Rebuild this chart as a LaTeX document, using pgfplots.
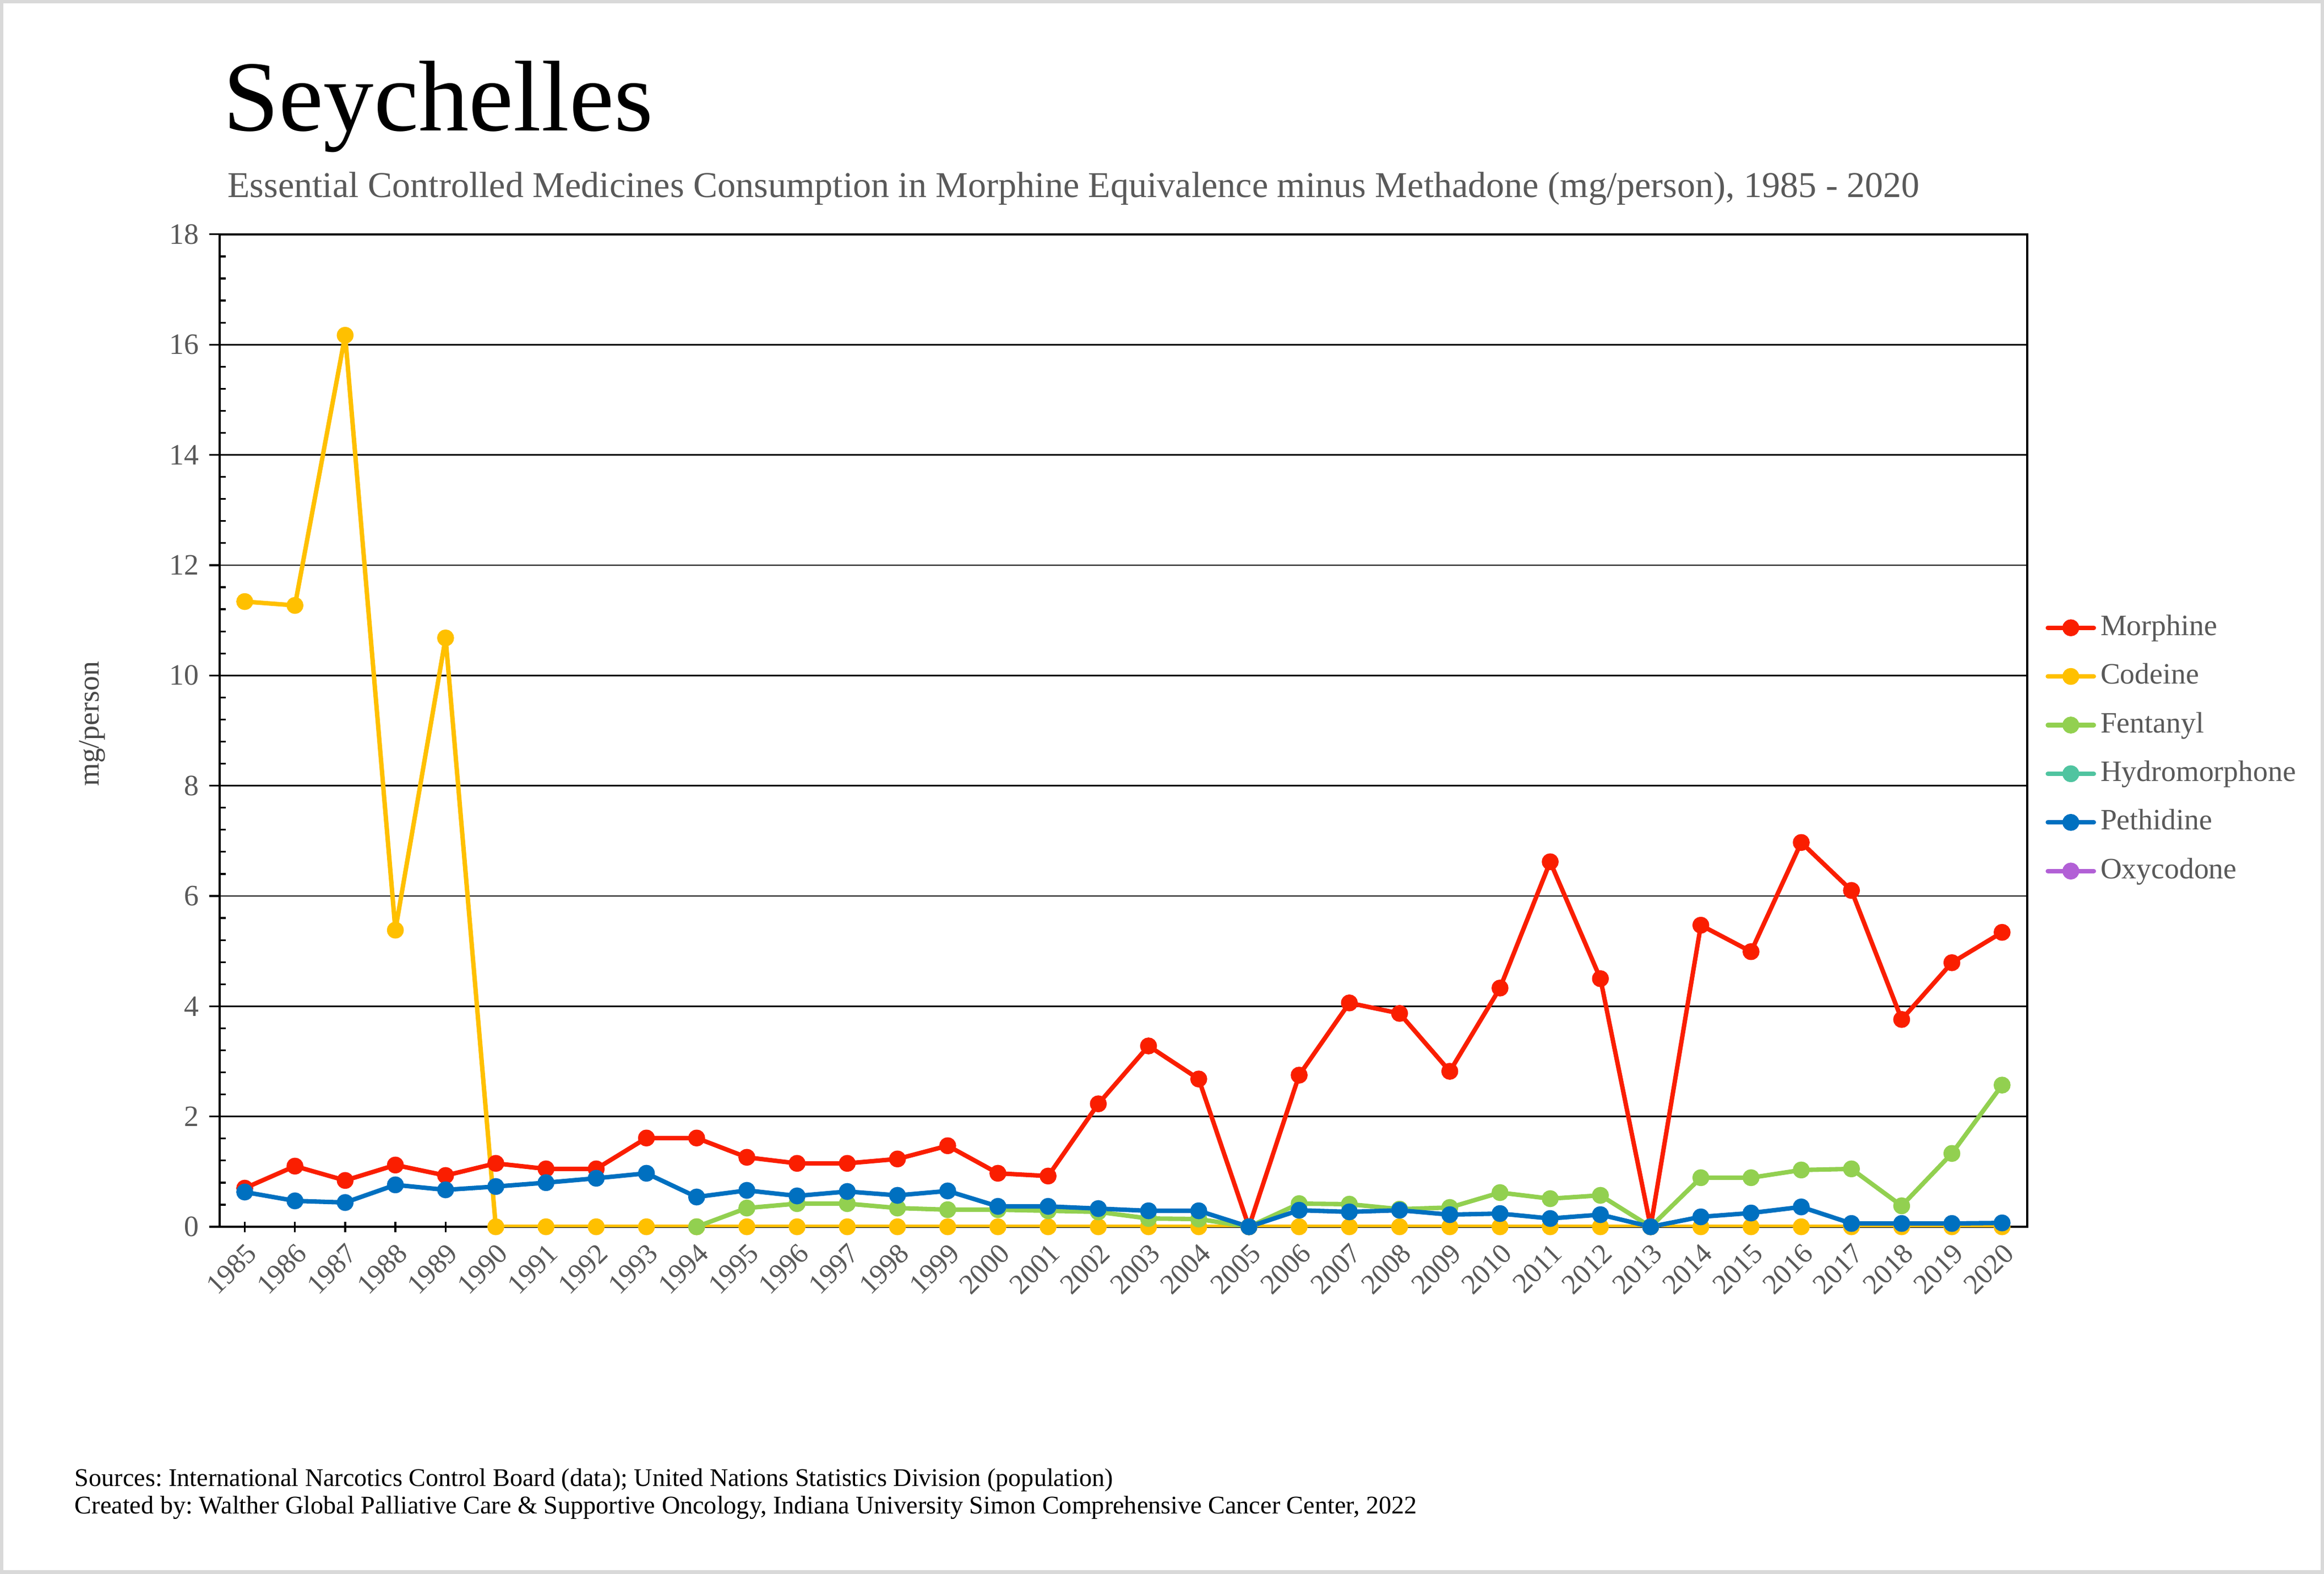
\documentclass[border=0pt]{standalone}
\usepackage{fontspec}
\setmainfont{Liberation Serif}
\usepackage{pgfplots}
\pgfplotsset{compat=1.18}
\usepackage{pgfplotstable}
\definecolor{cMor}{RGB}{250,30,0}
\definecolor{cCod}{RGB}{255,192,0}
\definecolor{cFen}{RGB}{146,208,80}
\definecolor{cHyd}{RGB}{80,196,160}
\definecolor{cPet}{RGB}{0,112,192}
\definecolor{cOxy}{RGB}{178,96,214}
\definecolor{txtgray}{RGB}{89,89,89}
\pgfplotstableread{
year mor cod peth
1985 0.70 11.34 0.63
1986 1.10 11.27 0.47
1987 0.84 16.17 0.44
1988 1.12 5.38 0.76
1989 0.93 10.68 0.67
1990 1.15 0 0.73
1991 1.05 0 0.80
1992 1.05 0 0.88
1993 1.61 0 0.97
1994 1.61 0 0.54
1995 1.26 0 0.66
1996 1.15 0 0.56
1997 1.15 0 0.64
1998 1.23 0 0.57
1999 1.47 0 0.65
2000 0.97 0 0.37
2001 0.92 0 0.37
2002 2.23 0 0.33
2003 3.28 0 0.29
2004 2.68 0 0.29
2005 0 0 0
2006 2.75 0 0.30
2007 4.06 0 0.27
2008 3.87 0 0.30
2009 2.82 0 0.22
2010 4.33 0 0.24
2011 6.62 0 0.15
2012 4.50 0 0.22
2013 0 0 0
2014 5.47 0 0.18
2015 4.99 0 0.25
2016 6.97 0 0.36
2017 6.10 0 0.06
2018 3.76 0 0.06
2019 4.79 0 0.06
2020 5.34 0 0.07
}\maindata
\pgfplotstableread{
year fen
1994 0
1995 0.34
1996 0.42
1997 0.42
1998 0.34
1999 0.31
2000 0.31
2001 0.29
2002 0.27
2003 0.15
2004 0.14
2005 0
2006 0.42
2007 0.41
2008 0.32
2009 0.35
2010 0.62
2011 0.51
2012 0.57
2013 0
2014 0.89
2015 0.89
2016 1.03
2017 1.05
2018 0.38
2019 1.33
2020 2.57
}\fendata
\begin{document}
\frenchspacing
\begin{tikzpicture}
\path[use as bounding box] (0bp,0bp) rectangle (783bp,530.5bp);
\draw[black!15, line width=1.2bp] (0.6bp,0.6bp) rectangle (782.4bp,529.9bp);
\node[anchor=base west, inner sep=0pt, font=\fontsize{34}{40}\selectfont] at (75bp,486.5bp) {Seychelles};
\node[anchor=base west, inner sep=0pt, text=txtgray, font=\fontsize{12.3}{14}\selectfont] at (76.5bp,464bp) {Essential Controlled Medicines Consumption in Morphine Equivalence minus Methadone (mg/person), 1985 - 2020};
\node[rotate=90, inner sep=0pt, text=txtgray!80!black, font=\fontsize{10}{12}\selectfont] at (31bp,286.5bp) {mg/person};
\node[anchor=base west, inner sep=0pt, font=\fontsize{8.6}{10}\selectfont] at (25bp,29.5bp) {Sources: International Narcotics Control Board (data); United Nations Statistics Division (population)};
\node[anchor=base west, inner sep=0pt, font=\fontsize{8.6}{10}\selectfont] at (25bp,20.2bp) {Created by: Walther Global Palliative Care \& Supportive Oncology, Indiana University Simon Comprehensive Cancer Center, 2022};
\begin{axis}[
  at={(74bp,117bp)}, anchor=south west,
  scale only axis, width=609bp, height=334.5bp,
  xmin=1984.5, xmax=2020.5, ymin=0, ymax=18,
  xtick={1985,...,2020}, ytick={0,2,...,18},
  minor y tick num=4,
  tick pos=left,
  /pgf/number format/assume math mode=true,
  /pgf/number format/1000 sep={},
  ticklabel style={font=\fontsize{10}{12}\selectfont, text=txtgray},
  xticklabel style={rotate=45, anchor=north east, inner sep=1pt, font=\fontsize{9.6}{11}\selectfont},
  tick align=outside,
  major tick length=3.5bp, minor tick length=2bp,
  every minor tick/.append style={xshift=2bp},
  x tick style={yshift=1.75bp},
  tick style={black, line width=0.6bp},
  axis line style={black, line width=0.7bp},
  ymajorgrids, grid style={black, line width=0.5bp},
  legend style={at={(1,0.481)}, anchor=west, xshift=6bp, draw=none, fill=none,
     font=\fontsize{10}{12}\selectfont, text=txtgray, row sep=4.4bp,
     inner sep=0pt,
     nodes={inner sep=1.5bp, text height=7bp, text depth=2bp}},
  legend cell align=left,
  legend image code/.code={\draw[mark repeat=2,mark phase=2,#1] plot coordinates {(0bp,0bp) (7.75bp,0bp) (15.5bp,0bp)};},
  every axis plot/.append style={line width=1.5bp, line join=round, line cap=round, mark=*, mark size=2.1bp, mark options={solid}},
]
\addplot[cMor, mark options={fill=cMor, draw=cMor}] table[x=year, y=mor] {\maindata};
\addlegendentry{Morphine}
\addplot[cCod, mark options={fill=cCod, draw=cCod}] table[x=year, y=cod] {\maindata};
\addlegendentry{Codeine}
\addplot[cFen, mark options={fill=cFen, draw=cFen}] table[x=year, y=fen] {\fendata};
\addlegendentry{Fentanyl}
\addlegendimage{cHyd, line width=1.5bp, line cap=round, mark=*, mark size=2.1bp, mark options={fill=cHyd, draw=cHyd}}
\addlegendentry{Hydromorphone}
\addplot[cPet, mark options={fill=cPet, draw=cPet}] table[x=year, y=peth] {\maindata};
\addlegendentry{Pethidine}
\addlegendimage{cOxy, line width=1.5bp, line cap=round, mark=*, mark size=2.1bp, mark options={fill=cOxy, draw=cOxy}}
\addlegendentry{Oxycodone}
\end{axis}
\end{tikzpicture}
\end{document}
